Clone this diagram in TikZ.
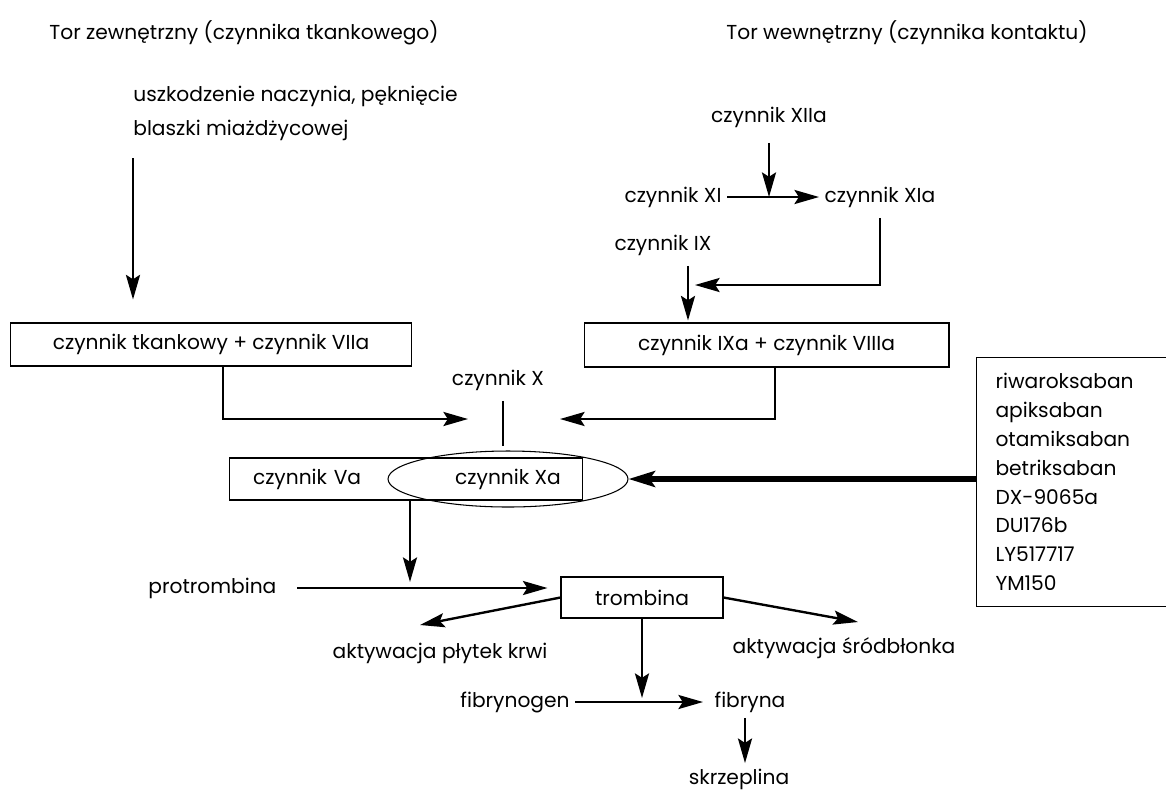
\documentclass[tikz,border=0pt]{standalone}
\usepackage{fontspec}
\setmainfont{Poppins}
\usetikzlibrary{arrows.meta,calc,shapes.geometric}

\tikzset{
  arr/.style={-{Stealth[length=14pt,width=8pt,inset=2.5pt]}, line width=1.35pt},
  bigarr/.style={-{Stealth[length=15pt,width=9pt,inset=3pt]}, line width=3.2pt},
  factor/.style={draw, line width=0.6pt},
  lbl/.style={inner sep=3pt},
}

\begin{document}
\begin{tikzpicture}[x=0.02cm, y=-0.02cm, font=\fontsize{11.5}{16.4}\selectfont]
\clip (0,0) rectangle (1166,796);

% titles
\node[lbl] (ext) at (244,33) {Tor zewnętrzny (czynnika tkankowego)};
\node[lbl] (int) at (907,33) {Tor wewnętrzny (czynnika kontaktu)};

% extrinsic pathway
\node[inner sep=0pt, anchor=north west, align=left, font=\fontsize{11.5}{19.3}\selectfont] (dmg) at (133,86) {uszkodzenie naczynia, pęknięcie\\blaszki miażdżycowej};
\node[factor, minimum width=8.04cm, minimum height=0.86cm] (tf) at (211,344.5) {czynnik tkankowy + czynnik VIIa};

% intrinsic pathway
\node[lbl] (xiia) at (769,117) {czynnik XIIa};
\node[lbl] (xi) at (673,197) {czynnik XI};
\node[lbl] (xia) at (880,197) {czynnik XIa};
\node[lbl] (ix) at (663,245) {czynnik IX};
\node[factor, minimum width=7.3cm, minimum height=0.88cm] (ix8) at (766.5,345) {czynnik IXa + czynnik VIIIa};
\coordinate (j9) at (688,285);

% common pathway
\node[lbl] (fx) at (498,380) {czynnik X};
\coordinate (mx) at (503,419);
\node[factor, text width=6.12cm, inner xsep=0.48cm, minimum height=0.84cm, align=left] (va) at (406,479) {czynnik Va};
\node[factor, ellipse, inner sep=0pt, minimum width=4.8cm, minimum height=1.12cm] (xa) at (508,479) {czynnik Xa};
\node[factor, anchor=north west, align=left, text width=4.6cm, inner xsep=0.38cm, minimum height=4.98cm] (drugs) at (976,357)
  {riwaroksaban\\apiksaban\\otamiksaban\\betriksaban\\DX-9065a\\DU176b\\LY517717\\YM150};

\node[lbl, anchor=east] (pro) at (282,588) {protrombina};
\node[factor, minimum width=3.24cm, minimum height=0.82cm] (thr) at (642,597.5) {trombina};
\node[lbl] (plt) at (440,653) {aktywacja płytek krwi};
\node[lbl] (sb) at (844,648) {aktywacja śródbłonka};
\node[lbl] (fg) at (515,702) {fibrynogen};
\node[lbl] (fb) at (750,702) {fibryna};
\node[lbl] (sk) at (739,779) {skrzeplina};

% connectors
\draw[arr, shorten <=0.34cm, shorten >=0.46cm] (dmg.south west) -- (dmg.south west |- tf.north);
\draw[arr, shorten <=0.2cm] (xiia.south) -- (xiia.south |- xi.east);
\draw[arr] (xi.east) -- (xia.west);
\draw[arr, shorten <=0.1cm, shorten >=0.14cm] (xia.south) |- (j9);
\draw[arr, shorten <=0.1cm, shorten >=0.04cm] (j9 |- ix.south) -- (j9 |- ix8.north);
\draw[arr, shorten >=0.7cm] ([xshift=0.24cm]tf.south) |- (mx);
\draw[arr, shorten >=1.14cm] ([xshift=0.17cm]ix8.south) |- (mx);
\draw[line width=1.35pt, shorten <=0.1cm, shorten >=0.08cm] (fx.south -| mx) -- (mx |- xa.north);
\draw[bigarr] (drugs.west |- xa.east) -- (xa.east);
\draw[arr, shorten >=0.12cm] ([xshift=0.08cm]va.south) -- ([xshift=0.08cm]va.south |- pro.east);
\draw[arr, shorten <=0.3cm, shorten >=0.26cm] (pro.east) -- (thr.west |- pro.east);
\draw[arr] (thr.west) -- ($(plt.center)+(-20,-28)$);
\draw[arr] (thr.east) -- ($(sb.center)+(14,-26)$);
\draw[arr, shorten >=0.08cm] (thr.south) -- (thr.south |- fg.east);
\draw[arr, shorten >=0.12cm] (fg.east) -- (fb.west);
\draw[arr] ([xshift=-0.1cm]fb.south) -- ([xshift=-0.1cm]fb.south |- sk.north);
\end{tikzpicture}
\end{document}
